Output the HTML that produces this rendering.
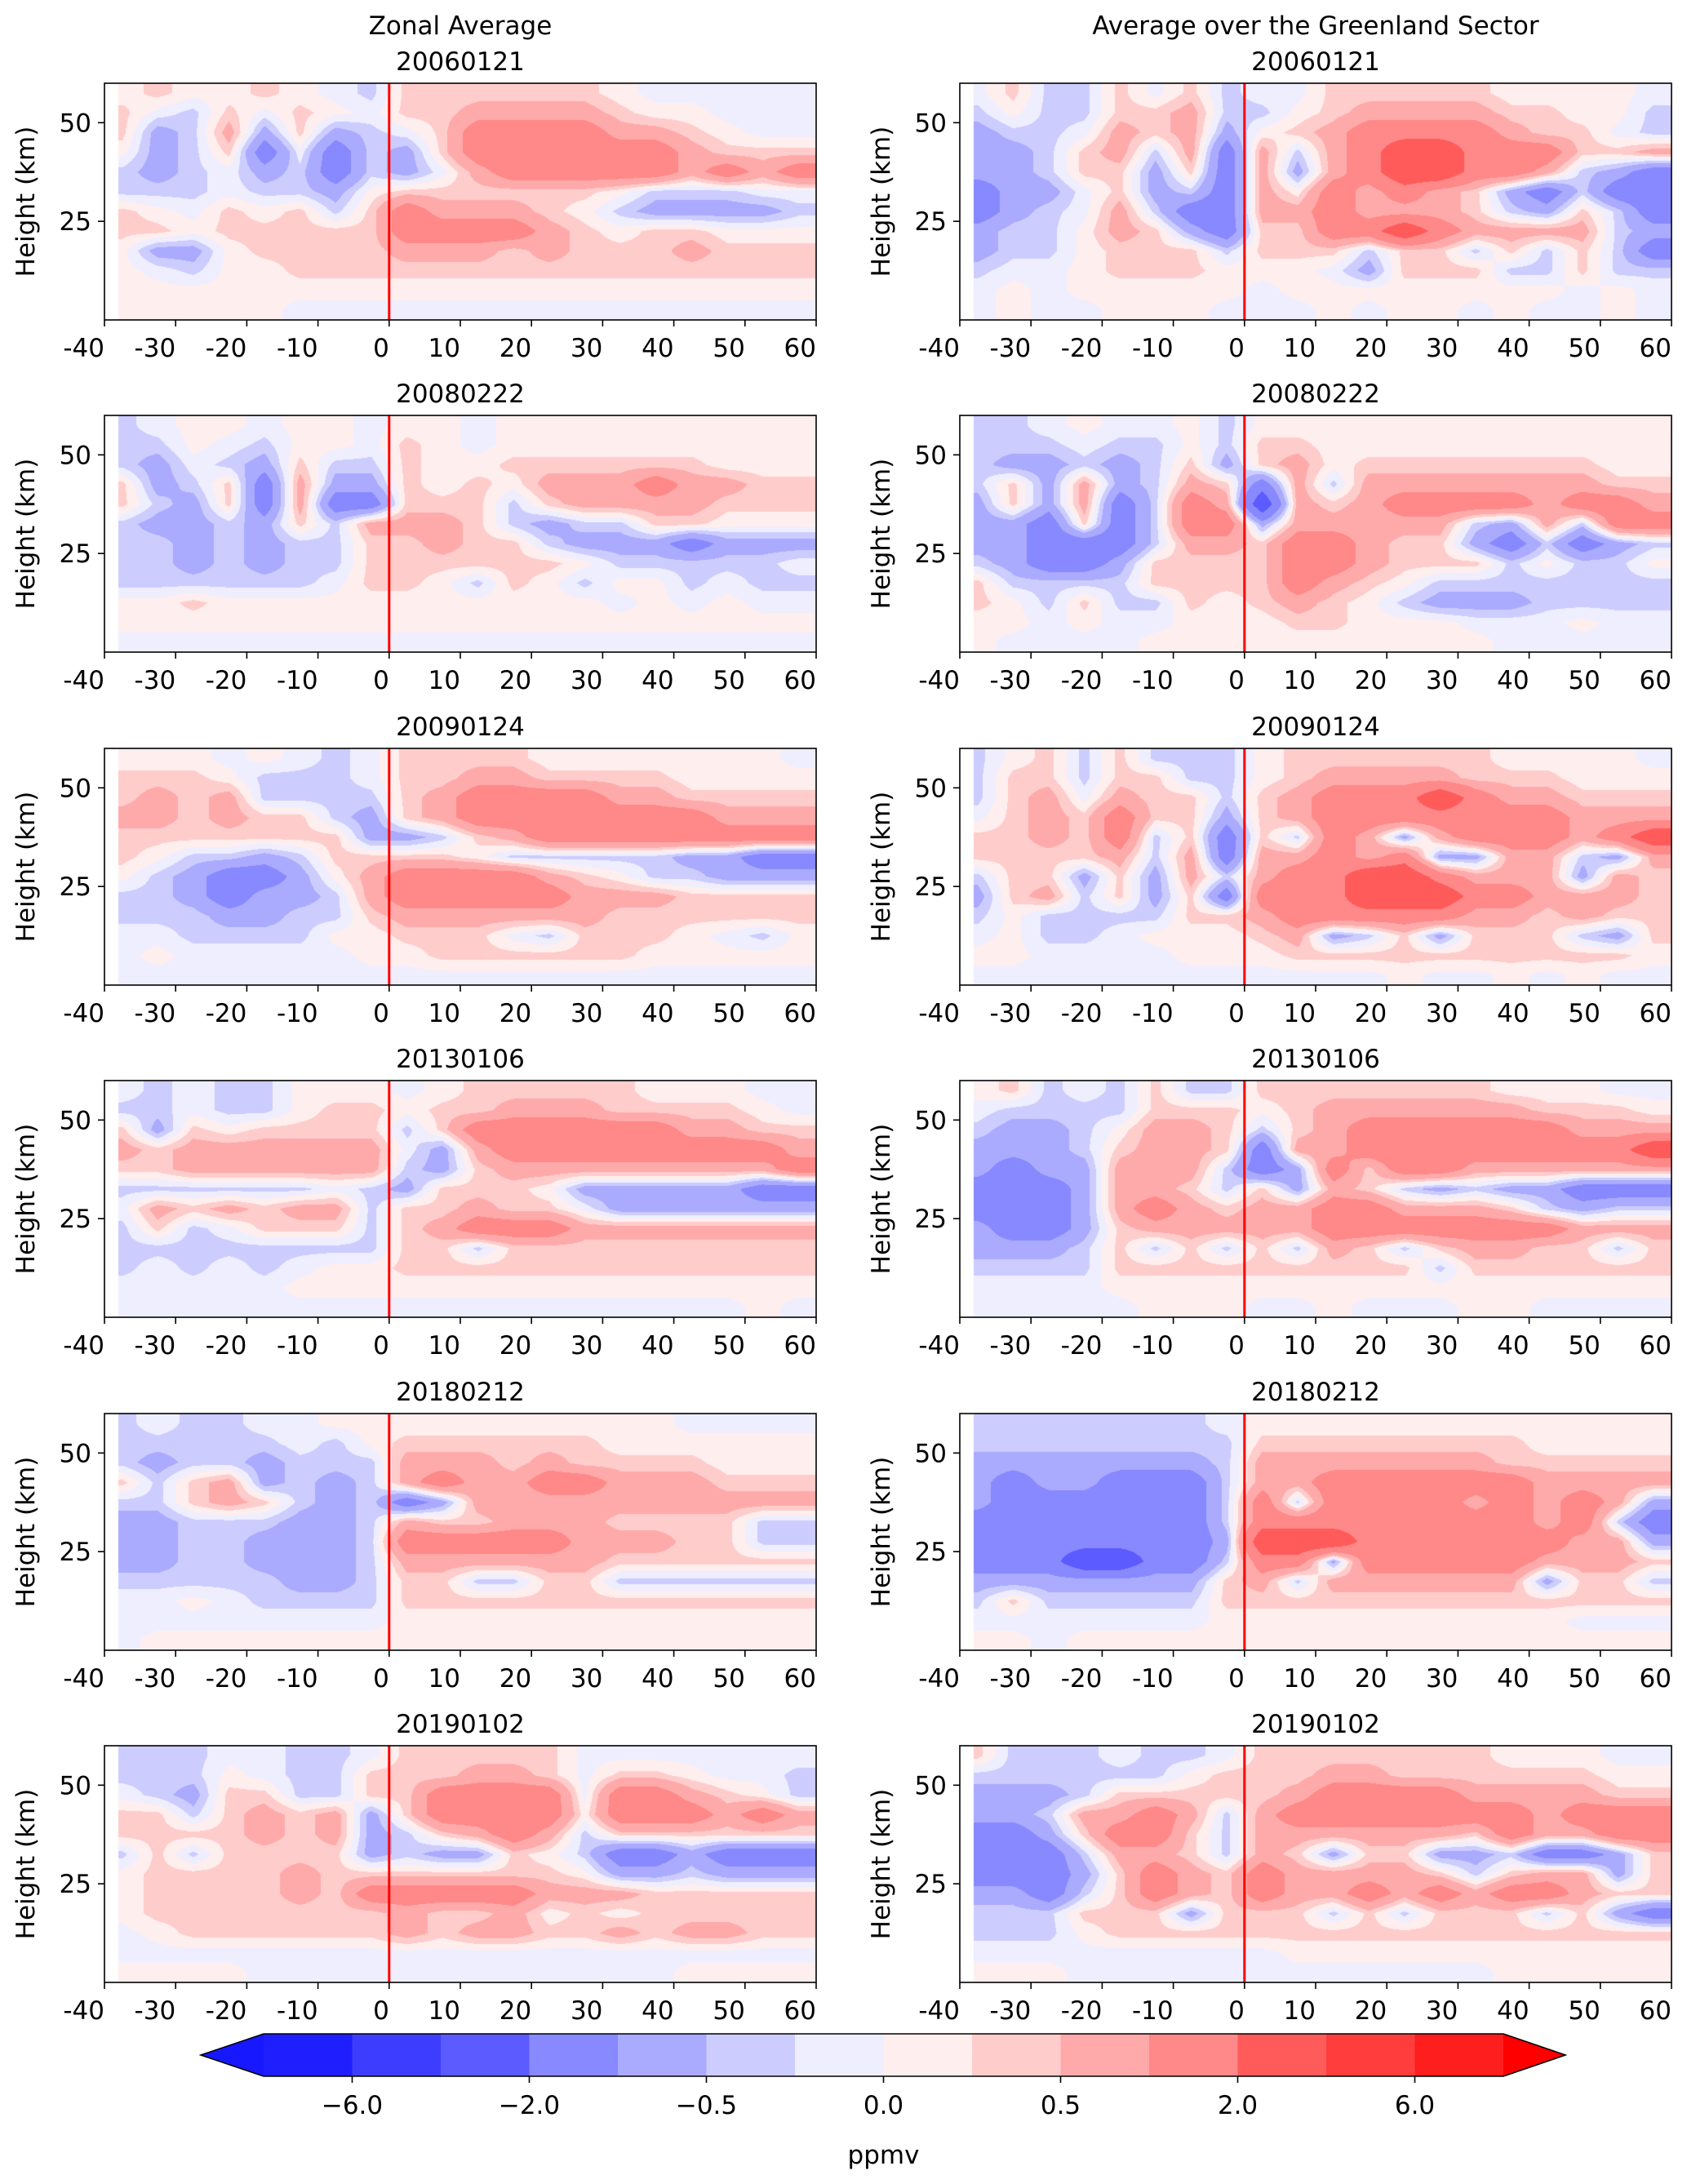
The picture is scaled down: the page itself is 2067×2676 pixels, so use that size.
<!DOCTYPE html>
<html><head><meta charset="utf-8">
<style>
html,body{margin:0;padding:0;background:#fff;}
#wrap{position:relative;width:2067px;height:2676px;overflow:hidden;font-family:"DejaVu Sans","Liberation Sans",sans-serif;}
canvas{position:absolute;}
svg{position:absolute;left:0;top:0;}
</style></head>
<body>
<div id="wrap">
<svg id="ov" width="2067" height="2676"></svg>
</div>
<script>
// ---- data ----
const xCenters = [-37.5,-32.5,-27.5,-22.5,-17.5,-12.5,-7.5,-2.5,2.5,7.5,12.5,17.5,22.5,27.5,32.5,37.5,42.5,47.5,52.5,57.5];
const heightCenters = [57.5,52.5,47.5,42.5,37.5,32.5,27.5,22.5,17.5,12.5,7.5,2.5];
const dates = ["20060121","20080222","20090124","20130106","20180212","20190102"];
const xTickLabels = [-40,-30,-20,-10,0,10,20,30,40,50,60];
const yTickLabels = [25,50];
const levels = [-8,-6,-4,-2,-1,-0.5,-0.25,0,0.25,0.5,1,2,4,6,8];
const cbarTickLabels = ["\u22126.0","\u22122.0","\u22120.5","0.0","0.5","2.0","6.0"];

const zonal2006 = [
[.1,.35,.1,.1,.35,.1,-.1,-.35,.35,.35,.35,.35,.35,.35,.1,-.1,-.1,-.1,-.1,-.1],
[.35,-.1,-.35,.35,-.1,.35,.1,-.1,.35,.35,.7,.7,.7,.7,.35,.1,.1,-.1,-.1,-.1],
[.35,-.7,-.35,.7,-.7,.35,-.7,-.35,-.1,.35,1.5,1.5,1.5,1.5,.7,.7,.35,.1,-.1,-.1],
[.1,-.7,-.35,.35,-1.5,-.1,-1.5,-.35,-.7,.35,1.5,1.5,1.5,1.5,1.5,1.5,.7,.35,.35,.35],
[-.35,-.7,-.35,-.1,-.7,-.35,-1.5,-.35,-.7,-.1,.7,1.5,1.5,1.5,1.5,1.5,.7,1.5,.7,1.5],
[-.35,-.35,-.35,-.1,-.35,-.35,-.7,.1,.35,.35,.35,.35,.35,.35,.1,-.35,-.35,-.35,-.1,-.1],
[.35,.1,-.1,.35,.1,.35,-.35,.35,1.5,.7,.7,.7,.35,.1,-.35,-.7,-.7,-.7,-.7,-.35],
[.35,.35,.1,.35,.35,.35,.35,.35,1.5,1.5,1.5,1.5,.7,.35,.1,.35,.35,.1,.1,.1],
[.1,-.7,-.7,.1,.35,.35,.35,.35,.7,.7,.7,.35,.7,.35,.35,.35,.7,.35,.35,.35],
[.1,-.1,-.35,.1,.1,.35,.35,.35,.35,.35,.35,.35,.35,.35,.35,.35,.35,.35,.35,.35],
[.1,.1,.1,.1,.1,.1,.1,.1,.1,.1,.1,.1,.1,.1,.1,.1,.1,.1,.1,.1],
[.1,.1,.1,.1,.1,-.1,-.1,-.1,-.1,-.1,-.1,-.1,-.1,-.1,-.1,-.1,-.1,-.1,-.1,-.1]];
const green2006 = [
[-.1,.35,-.35,-.35,.35,-.1,.35,-.35,-.1,-.1,.35,.35,.35,.35,.35,.1,.1,.1,.1,-.1],
[-.35,.1,-.35,-.35,.35,.35,.7,-.35,-.35,.1,.35,.7,.7,.7,.7,.35,.35,.1,.1,-.35],
[-.7,-.35,-.35,-.1,.7,.35,.7,-.7,.1,.35,.7,1.5,1.5,1.5,1.5,.7,.35,.35,-.1,-.35],
[-.7,-.7,-.35,.35,.7,-.35,.7,-1.5,.7,-.35,.7,1.5,3,3,1.5,1.5,1.5,.35,.35,.7],
[-.7,-.7,-.35,.35,.35,-.7,.35,-1.5,.7,-.7,.7,1.5,3,3,1.5,1.5,.7,-.35,-.7,-1.5],
[-1.5,-.7,-.7,-.1,.35,-.7,-.35,-1.5,.7,.1,1.5,.7,1.5,.7,.35,-.7,-1.5,-.35,-1.5,-1.5],
[-1.5,-.7,-.35,-.1,.7,-.35,-1.5,-1.5,.7,.7,1.5,.7,.7,.7,.35,-.35,-.7,.35,-.35,-1.5],
[-.7,-.35,-.35,.1,.7,.35,-.7,-1.5,.35,.35,1.5,1.5,3,1.5,.7,.7,.7,.7,-.35,-.7],
[-.7,-.35,-.35,.1,.35,.35,.35,-.35,.35,.35,.35,-.35,.35,.35,-.35,.35,-.35,.35,-.35,-1.5],
[-.35,-.1,-.1,.1,.35,.35,.35,.1,.1,.1,-.1,-.7,.35,.35,.35,-.35,-.35,.35,-.35,-.35],
[-.1,.1,-.1,.1,.1,.1,.1,.1,-.1,.1,.1,.1,.1,.1,.1,.1,.1,-.1,.1,-.1],
[-.1,.1,-.1,-.1,.1,.1,.1,-.1,-.1,-.1,.1,-.1,.1,.1,-.1,.1,-.1,-.1,.1,-.1]];
const zonal2008 = [
[-.35,-.1,.1,.1,-.1,.1,.1,-.1,.1,.1,-.1,.1,.1,.1,.1,.1,.1,.1,.1,.1],
[-.35,-.35,.1,-.1,-.35,.1,.1,-.1,.35,.1,-.1,.1,.1,.1,.1,.1,.1,.1,.1,.1],
[-.35,-.7,-.1,-.35,-.7,.35,-.35,-.35,.35,.1,.1,.35,.35,.35,.35,.35,.35,.1,.1,.1],
[.35,-.7,-.35,.35,-1.5,.7,-.7,-.7,.35,.1,.35,.1,.7,.7,.7,1.5,.7,.7,.35,.35],
[.35,-.35,-.7,.35,-1.5,.7,-1.5,-1.5,.35,.35,.35,-.35,.35,.7,.7,.7,.7,.35,.35,.35],
[-.35,-.7,-.7,-.35,-.7,.35,-.35,.7,.7,.7,.35,-.35,-.7,-.35,-.35,.35,.35,.1,.1,.1],
[-.35,-.35,-.7,-.35,-.7,-.35,-.35,.35,.35,.7,.35,.35,-.35,-.7,-.7,-.7,-1.5,-.7,-.7,-.7],
[-.35,-.35,-.7,-.35,-.7,-.35,-.35,.35,.35,.35,.35,.35,.35,.1,-.35,-.35,-.35,-.35,-.35,-.1],
[-.35,-.35,-.35,-.35,-.35,-.35,-.1,.35,.35,.1,-.35,.35,.1,-.35,.1,.1,-.35,-.1,-.35,-.35],
[.1,.1,.35,.1,.1,.1,.1,.1,.1,.1,.1,.1,.1,.1,-.1,.1,-.1,.1,-.1,-.1],
[.1,.1,.1,.1,.1,.1,.1,.1,.1,.1,.1,.1,.1,.1,.1,.1,.1,.1,.1,.1],
[-.1,-.1,-.1,-.1,-.1,-.1,-.1,-.1,-.1,-.1,-.1,-.1,-.1,-.1,-.1,-.1,-.1,-.1,-.1,-.1]];
const green2008 = [
[-.35,-.35,-.1,.1,-.1,-.1,.1,-.35,.1,.1,.1,.1,.1,.1,.1,.1,.1,.1,.1,.1],
[-.35,-.35,-.35,-.1,-.35,-.35,.1,-.35,.35,.35,.1,.1,.1,.1,.1,.1,.1,.1,.1,.1],
[-.35,-.7,-.7,-.35,-.7,-.35,.35,-.7,.35,.7,.1,.35,.35,.35,.35,.35,.35,.35,.1,.1],
[-.35,.35,-.7,.7,-.7,-.35,.7,.35,-1.5,.7,-.35,.7,.7,.7,.7,.7,.7,.7,.35,.35],
[-.7,.35,-.7,.7,-1.5,-.35,1.5,.7,-3,.7,.35,.7,1.5,1.5,1.5,1.5,.7,1.5,1.5,.7],
[-.7,-.7,-1.5,.35,-1.5,-.35,1.5,1.5,-.7,.7,.7,.7,.7,.7,-.35,-.7,.7,-.35,1.5,1.5],
[-.7,-.7,-1.5,-1.5,-1.5,-.35,.7,.7,.35,1.5,1.5,.7,.35,.35,-.7,-1.5,-.35,-1.5,-.7,-.35],
[-.35,-.7,-1.5,-1.5,-.7,.35,.35,.35,.35,1.5,1.5,.7,.35,.35,.35,-.35,.1,-.35,-.35,.1],
[.35,-.35,-.35,-.35,-.35,.35,.35,.35,.35,1.5,.7,.35,.1,-.35,-.35,-.35,-.35,-.35,-.35,-.35],
[.35,.1,-.35,.35,-.35,-.35,.35,.1,.35,.7,.35,.1,-.35,-.7,-.7,-.7,-.35,-.35,-.35,-.35],
[.1,.1,-.1,.1,-.1,-.1,.1,.1,.1,.35,.35,.1,.1,.1,-.1,-.1,-.1,.1,-.1,-.1],
[.1,-.1,-.1,-.1,-.1,.1,.1,.1,.1,.1,.1,.1,.1,.1,.1,-.1,-.1,-.1,-.1,-.1]];
const zonal2009 = [
[.1,.1,.1,-.1,.1,-.1,-.35,-.1,.35,.35,.35,.35,.1,.1,.1,.1,.1,.1,.1,-.1],
[.35,.35,.35,.1,-.35,-.35,-.35,-.1,.35,.35,.7,.7,.35,.35,.35,.35,.1,.1,.1,.1],
[.35,.7,.35,.7,-.35,-.35,-.35,-.35,.35,.7,1.5,1.5,1.5,1.5,.7,.7,.35,.35,.35,.35],
[.7,.7,.35,.7,.35,.35,-.35,-.7,.35,.7,1.5,1.5,1.5,1.5,1.5,1.5,1.5,.7,.7,.7],
[.35,.35,.35,.35,.35,.35,.35,-.7,-.7,-.35,.35,.7,1.5,1.5,1.5,1.5,1.5,1.5,1.5,1.5],
[.35,.1,-.35,-.35,-.7,-.35,.35,.35,.35,.35,.1,-.35,-.35,-.35,-.35,-.35,-.7,-.7,-1.5,-1.5],
[.1,-.35,-.7,-1.5,-1.5,-.7,.1,.7,1.5,1.5,1.5,1.5,.7,.35,.1,-.35,-.35,-.7,-.7,-.7],
[-.35,-.35,-.7,-1.5,-.7,-.7,-.35,.7,1.5,1.5,1.5,1.5,1.5,.7,.7,.7,.35,.35,.35,.35],
[-.35,-.35,-.35,-.7,-.7,-.35,-.35,.35,.7,.7,.7,.7,.7,.7,.35,.35,.35,.35,.35,.35],
[-.1,-.1,-.35,-.35,-.35,-.35,.1,.1,.35,.35,.35,-.1,-.35,.35,.35,.35,.1,-.1,-.35,.1],
[-.1,.1,-.1,-.1,-.1,-.1,-.1,.1,.1,.35,.35,.35,.35,.35,.35,.1,.1,.1,.1,.1],
[-.1,-.1,-.1,-.1,-.1,-.1,-.1,-.1,-.1,-.1,-.1,-.1,-.1,-.1,-.1,-.1,-.1,-.1,-.1,-.1]];
const green2009 = [
[-.35,.1,.35,-.35,.35,-.35,-.35,-.35,.1,.35,.35,.35,.35,.35,.35,.1,.1,.1,.1,-.1],
[-.35,.35,.35,-.35,.35,.35,-.35,-.35,.1,.35,.7,.7,.7,.7,.35,.35,.35,.1,.1,.1],
[-.35,.35,.7,-.1,.7,.35,.35,-.35,.35,.7,1.5,1.5,1.5,3,1.5,.7,.7,.35,.35,.35],
[-.1,.35,.7,.35,1.5,.35,.35,-.7,.35,.7,1.5,1.5,1.5,1.5,1.5,1.5,1.5,.7,.7,.7],
[.35,.35,.7,.35,1.5,-.35,.35,-1.5,.35,-.35,1.5,.7,-.7,.7,1.5,1.5,1.5,.7,1.5,3],
[.35,.35,.35,.35,.7,-.35,.7,-1.5,.7,.7,1.5,.7,1.5,-.7,-.7,.7,.7,-.35,-.7,.7],
[-.35,.35,.35,-.7,.35,-.7,.7,-.35,.7,1.5,1.5,3,3,1.5,.7,.7,.7,-.7,.7,.35],
[-.7,.35,.7,-.35,.35,-.7,.35,-1.5,1.5,1.5,1.5,3,3,3,1.5,1.5,.7,.7,.7,.35],
[-.35,.1,-.35,-.35,-.35,-.35,.35,.35,.7,1.5,1.5,1.5,1.5,1.5,.7,.7,.35,.7,.35,.35],
[-.1,.1,-.35,-.35,-.1,.1,.1,.1,.35,.7,-.7,-.35,.35,-.7,.35,.35,.35,-.35,-.7,.35],
[.1,.1,-.1,-.1,-.1,-.1,.1,.1,.1,.35,.35,.35,.35,.35,.35,.35,.35,.35,.35,.1],
[-.1,-.1,-.1,-.1,-.1,-.1,-.1,-.1,-.1,-.1,-.1,-.1,.1,-.1,-.1,.1,-.1,.1,-.1,-.1]];
const zonal2013 = [
[-.1,-.35,-.1,-.35,-.35,.1,.1,.1,-.1,.1,.35,.35,.35,.35,.35,.1,.1,.1,-.1,-.1],
[-.35,-.35,-.1,-.35,-.35,.1,.35,.35,.1,.35,.35,.7,.7,.7,.35,.35,.35,.35,.1,-.1],
[.35,-.7,.35,.1,.35,.35,.35,.35,-.35,.35,1.5,1.5,1.5,1.5,1.5,1.5,.7,.7,.35,.35],
[.7,.35,.7,.7,.7,.7,.7,.7,-.1,-.7,.7,1.5,1.5,1.5,1.5,1.5,1.5,1.5,1.5,.7],
[.35,.35,.7,.7,.7,.7,.7,.7,-.35,-.7,.35,.7,.7,.7,.7,.7,.7,.7,.7,1.5],
[-.35,-.35,-.35,-.35,-.35,-.35,-.1,-.35,-.7,.35,.35,.35,.1,-.7,-.7,-.7,-.7,-.7,-1.5,-1.5],
[-.1,.7,.35,.7,.35,.7,.7,-.35,.35,.35,.7,.35,.35,-.1,-.7,-.7,-.7,-.7,-.7,-.7],
[-.35,.35,-.35,-.1,.35,.35,.35,-.35,.35,.7,1.5,1.5,1.5,.7,.7,.7,.7,.7,.7,.7],
[-.35,-.35,-.35,-.35,-.35,-.35,-.35,-.35,.35,.35,-.35,.35,.35,.35,.35,.35,.35,.35,.35,.35],
[-.35,-.1,-.35,-.1,-.35,-.1,.1,.1,.35,.35,.35,.35,.35,.35,.35,.35,.35,.35,.35,.35],
[-.1,-.1,-.1,-.1,-.1,.1,.1,.1,.1,.1,.1,.1,.1,.1,.1,.1,.1,.1,.1,.1],
[-.1,-.1,-.1,-.1,-.1,-.1,-.1,-.1,-.1,-.1,-.1,-.1,-.1,-.1,-.1,-.1,-.1,-.1,.1,-.1]];
const green2013 = [
[.1,.35,-.35,-.1,-.35,.35,-.35,-.35,.35,.35,.35,.35,.35,.35,.35,.1,.1,.1,-.1,-.1],
[-.1,-.35,-.35,-.35,-.35,.35,.35,.35,.1,.35,.7,.7,.7,.7,.7,.7,.35,.35,.35,.1],
[-.35,-.7,-.7,-.35,.1,.7,.7,.35,-.35,.35,.7,1.5,1.5,1.5,1.5,1.5,1.5,.7,.7,.7],
[-.7,-.7,-.7,-.35,.35,.7,.7,.35,-1.5,.7,.7,1.5,1.5,1.5,1.5,1.5,1.5,1.5,1.5,3],
[-.7,-1.5,-.7,-.7,.7,.7,.7,-.35,-1.5,-.7,1.5,.35,1.5,1.5,.7,.7,.7,.7,.7,.7],
[-1.5,-1.5,-1.5,-.7,.7,.7,.35,-.35,.35,-.7,.7,.35,-.35,-.7,-.35,-.7,-.7,-1.5,-1.5,-1.5],
[-1.5,-1.5,-1.5,-.7,.7,1.5,.7,.35,.7,.7,1.5,1.5,.7,.7,.7,.35,-.35,-.7,-.35,-.35],
[-.7,-1.5,-1.5,-.7,.35,.7,.7,.7,.7,.7,1.5,1.5,1.5,1.5,1.5,1.5,1.5,.7,.7,.7],
[-.7,-.7,-.7,-.35,.35,-.35,.35,-.35,.35,-.35,.7,.35,-.35,.35,.7,.7,.35,.35,-.35,.35],
[-.35,-.35,-.35,-.35,.35,.35,.35,.35,.35,.35,.35,.35,.35,-.35,.35,.35,.35,.35,.35,.35],
[-.1,-.1,-.1,-.1,.1,.1,.1,.1,.1,.1,.1,.1,.1,.1,.1,.1,.1,.1,.1,.1],
[-.1,-.1,-.1,-.1,-.1,.1,.1,.1,-.1,-.1,.1,-.1,-.1,-.1,.1,.1,-.1,-.1,-.1,-.1]];
const zonal2018 = [
[-.35,-.1,-.35,-.35,-.1,-.1,.1,.1,.1,.1,.1,.1,.1,.1,.1,.1,-.1,-.1,-.1,-.1],
[-.35,-.35,-.35,-.35,-.35,-.1,-.35,.1,.35,.35,.35,.35,.35,.35,.1,.1,.1,.1,.1,.1],
[-.35,-.7,-.35,-.35,-.7,-.35,-.35,-.35,.7,.7,.7,.35,.7,.35,.35,.35,.35,.1,.1,.1],
[.35,-.35,.35,.7,-.7,-.35,-.7,-.35,.7,1.5,.7,.7,1.5,1.5,.7,.7,.7,.35,.35,.35],
[-.35,-.35,.35,.7,.35,-.35,-.7,-.35,-1.5,-.7,.7,.7,.7,.7,.7,.7,.7,.7,.7,.7],
[-.7,-.7,-.35,-.35,-.35,-.7,-.7,-.35,.7,.35,.35,.7,.7,.7,.35,.35,.35,.35,-.35,-.35],
[-.7,-.7,-.35,-.35,-.7,-.7,-.7,-.35,1.5,1.5,1.5,1.5,1.5,.7,.7,.7,.35,.35,-.35,-.35],
[-.7,-.7,-.35,-.35,-.7,-.7,-.7,-.35,.7,.7,.7,.7,.7,.7,.35,.35,.35,.35,.35,.35],
[-.35,-.35,-.35,-.35,-.35,-.7,-.7,-.35,.35,.35,-.35,-.35,.35,.35,-.35,-.35,-.35,-.35,-.35,-.35],
[-.1,-.1,.1,-.1,-.35,-.35,-.35,-.35,.35,.35,.35,.35,.35,.35,.35,.35,.35,.35,.35,.35],
[-.1,-.1,-.1,-.1,-.1,-.1,-.1,-.1,.1,.1,.1,.1,.1,.1,.1,.1,.1,.1,.1,.1],
[-.1,.1,.1,.1,.1,.1,.1,.1,.1,.1,.1,.1,.1,.1,.1,.1,.1,.1,.1,.1]];
const green2018 = [
[-.35,-.35,-.35,-.35,-.35,-.35,-.35,-.1,.1,.1,.1,.1,.1,.1,.1,.1,.1,.1,.1,.1],
[-.35,-.35,-.35,-.35,-.35,-.35,-.35,-.35,.35,.35,.35,.35,.35,.35,.35,.35,.1,.1,.1,.1],
[-.7,-.7,-.7,-.7,-.7,-.7,-.7,-.35,.7,.7,.7,.7,.7,.7,.7,.35,.35,.35,.35,.35],
[-.7,-1.5,-.7,-.7,-1.5,-1.5,-1.5,-.35,.7,.7,1.5,1.5,1.5,1.5,1.5,1.5,.7,.7,.7,.7],
[-.7,-1.5,-1.5,-1.5,-1.5,-1.5,-1.5,-.35,1.5,-.35,1.5,1.5,1.5,1.5,.7,1.5,.7,1.5,.7,-.7],
[-1.5,-1.5,-1.5,-1.5,-1.5,-1.5,-1.5,-.35,1.5,1.5,1.5,1.5,1.5,1.5,1.5,1.5,.7,1.5,-.35,-1.5],
[-1.5,-1.5,-1.5,-1.5,-1.5,-1.5,-1.5,-.7,3,3,3,1.5,1.5,1.5,1.5,1.5,1.5,.7,.7,-.7],
[-1.5,-1.5,-1.5,-3,-3,-1.5,-1.5,-.35,1.5,1.5,-.7,1.5,1.5,1.5,1.5,1.5,.7,.7,.7,.35],
[-.7,-.7,-.7,-.7,-.7,-.7,-.7,.35,.7,-.35,.7,.7,.7,.7,.7,.7,-.7,.35,.35,-.35],
[-.35,.35,-.35,-.35,-.35,-.35,-.35,.35,.35,.35,.35,.35,.35,.35,.35,.35,.35,.35,.35,.35],
[-.1,-.1,-.1,-.1,-.1,-.1,-.1,.1,.1,.1,.1,.1,.1,.1,.1,.1,.1,-.1,-.1,-.1],
[.1,.1,-.1,.1,.1,.1,.1,.1,.1,.1,.1,.1,.1,.1,.1,.1,.1,.1,.1,.1]];
const zonal2019 = [
[-.35,-.35,-.35,-.1,-.1,-.35,-.35,-.1,.35,.35,.35,.35,.35,-.1,-.1,-.1,-.1,-.1,-.1,-.1],
[-.35,-.35,-.35,.1,-.1,-.35,-.35,.35,.35,.35,.7,.7,.35,-.1,.35,.35,.1,-.1,-.1,-.35],
[-.1,-.35,-.7,.35,.35,-.35,-.35,.35,.35,1.5,1.5,1.5,1.5,-.1,1.5,1.5,.7,.35,.1,-.35],
[.35,.35,-.35,.35,.7,.35,.7,-.7,.35,1.5,1.5,1.5,1.5,.1,1.5,1.5,1.5,.7,1.5,.7],
[.35,.35,.35,.35,.7,.35,.7,-.7,-.35,.35,.7,1.5,.7,-.35,.35,.35,.35,.35,.35,.35],
[-.35,.35,-.35,.35,.35,.35,.35,-.7,-.35,-.7,-.7,.35,.1,-.35,-1.5,-1.5,-.7,-1.5,-1.5,-1.5],
[.1,.35,.35,.35,.35,.7,.35,.35,.35,.35,.35,.35,.35,.1,-.7,-.7,-.35,-.7,-.7,-.7],
[.1,.35,.35,.35,.35,.7,.35,1.5,1.5,1.5,1.5,1.5,.7,.7,.7,.35,.35,.35,.35,.35],
[.1,.35,.35,.35,.35,.35,.35,.35,.7,.35,.35,.7,.1,.35,.1,.35,.35,.35,.35,.35],
[-.1,.1,.35,.35,.35,.35,.35,.35,.7,.35,.7,.7,.35,.35,.7,.35,.7,.7,.35,.35],
[-.1,-.1,-.1,-.1,-.1,-.1,-.1,-.1,-.1,-.1,-.1,-.1,-.1,-.1,-.1,-.1,-.1,-.1,-.1,-.1],
[.1,.1,.1,.1,-.1,-.1,-.1,-.1,-.1,-.1,-.1,-.1,-.1,-.1,-.1,-.1,.1,.1,.1,.1]];
const green2019 = [
[.35,-.35,-.35,-.35,-.1,-.35,-.35,-.1,.35,.35,.35,.35,.35,.35,.35,.1,.1,.1,-.1,-.1],
[-.35,-.35,-.35,-.35,-.35,-.35,.1,.35,.35,.35,.7,.7,.35,.35,.35,.35,.35,.35,.1,.1],
[-.7,-.7,-.7,-.35,.35,.35,.35,.35,.35,.7,1.5,1.5,1.5,1.5,.7,.7,.7,.7,.35,.35],
[-.7,-.7,-.35,.7,.7,1.5,.7,-.35,.7,1.5,1.5,1.5,1.5,1.5,1.5,1.5,.7,1.5,1.5,1.5],
[-1.5,-1.5,-.7,.35,1.5,1.5,.35,-.35,.7,.7,.7,.7,.7,.7,.35,1.5,.7,.7,1.5,1.5],
[-1.5,-1.5,-1.5,-.35,.7,.7,.35,-.35,.7,.35,-.7,.35,.35,-.7,-.7,-.35,-1.5,-1.5,-.7,.35],
[-1.5,-1.5,-1.5,-.7,.35,1.5,.7,.35,1.5,.7,.7,.7,.7,.35,-.35,.35,.7,.7,-.7,.35],
[-.7,-.7,-1.5,-.35,.35,1.5,.7,.35,1.5,.7,.7,1.5,.7,1.5,.7,1.5,1.5,.7,.35,.35],
[-.35,-.35,-.35,.35,.35,.35,-.7,.35,.35,.35,-.35,.35,-.35,.35,.35,.35,-.35,.35,-.7,-1.5],
[-.35,-.35,-.35,.1,.35,.35,.35,.35,.35,.35,.35,.35,.35,.35,.35,.35,.35,.35,.35,.35],
[-.1,-.1,-.1,-.1,-.1,-.1,-.1,-.1,-.1,.1,.1,.1,.1,.1,.1,.1,.1,.1,.1,.1],
[.1,.1,.1,-.1,-.1,-.1,-.1,-.1,-.1,-.1,-.1,-.1,-.1,-.1,-.1,.1,.1,.1,.1,.1]];

const zonalPanels = [zonal2006,zonal2008,zonal2009,zonal2013,zonal2018,zonal2019];
const greenPanels = [green2006,green2008,green2009,green2013,green2018,green2019];

// ---- styling / layout ----
const binColors = [[30,30,255],[61,61,255],[91,91,255],[136,136,255],[170,170,255],[204,204,255],[238,238,255],
                   [255,238,238],[255,204,204],[255,170,170],[255,136,136],[255,91,91],[255,61,61],[255,30,30]];
const lowExt = [24,24,255], highExt = [255,0,0];
const PW = 872, PH = 290;
const colLeft = [128, 1176];
const rowTop0 = 102, rowPitch = 407.4;
const xMin = -40, xMax = 60, yMin = 0, yMax = 60, dataStart = -38;
const NS = "http://www.w3.org/2000/svg";
const ov = document.getElementById('ov');
const wrap = document.getElementById('wrap');

function xScale(v){ return (v - xMin) / (xMax - xMin) * PW; }
function yScale(v){ return PH - (v - yMin) / (yMax - yMin) * PH; }
function colorFor(v){
  if (v < levels[0]) return lowExt;
  for (let i = 0; i < levels.length - 1; i++) if (v < levels[i+1]) return binColors[i];
  return highExt;
}
function sample(data, x, h){
  const nc = xCenters.length, nr = heightCenters.length;
  let fx = (x - xCenters[0]) / (xCenters[1] - xCenters[0]);
  fx = Math.max(0, Math.min(nc - 1, fx));
  let fr = (heightCenters[0] - h) / (heightCenters[0] - heightCenters[1]);
  fr = Math.max(0, Math.min(nr - 1, fr));
  const c0 = Math.floor(fx), c1 = Math.min(nc - 1, c0 + 1), tx = fx - c0;
  const r0 = Math.floor(fr), r1 = Math.min(nr - 1, r0 + 1), ty = fr - r0;
  const a = data[r0][c0]*(1-tx) + data[r0][c1]*tx;
  const b = data[r1][c0]*(1-tx) + data[r1][c1]*tx;
  return a*(1-ty) + b*ty;
}
function svgEl(tag, attrs, parent){
  const e = document.createElementNS(NS, tag);
  for (const k in attrs) e.setAttribute(k, attrs[k]);
  (parent || ov).appendChild(e);
  return e;
}
function text(str, x, y, size, anchor, parent){
  const t = svgEl('text', {x:x, y:y, 'font-size':size, 'text-anchor':anchor||'middle', fill:'#000',
    'font-family':'DejaVu Sans, Liberation Sans, sans-serif'}, parent);
  t.textContent = str;
  return t;
}

function drawPanel(data, left, top, kind, date){
  const cv = document.createElement('canvas');
  cv.width = PW; cv.height = PH;
  cv.style.left = left + 'px'; cv.style.top = top + 'px';
  
  
  wrap.insertBefore(cv, ov);
  const ctx = cv.getContext('2d');
  const img = ctx.createImageData(PW, PH);
  for (let py = 0; py < PH; py++){
    const h = yMax - (py + 0.5) / PH * (yMax - yMin);
    for (let px = 0; px < PW; px++){
      const x = xMin + (px + 0.5) / PW * (xMax - xMin);
      const o = (py * PW + px) * 4;
      let c = [255,255,255];
      if (x >= dataStart) c = colorFor(sample(data, x, h));
      img.data[o] = c[0]; img.data[o+1] = c[1]; img.data[o+2] = c[2]; img.data[o+3] = 255;
    }
  }
  ctx.putImageData(img, 0, 0);

  const g = svgEl('g', {transform:'translate(' + left + ',' + top + ')'});
  
  
  const ev = svgEl('line', {x1:xScale(0), x2:xScale(0), y1:0, y2:PH, stroke:'#ff0000', 'stroke-width':3}, g);
  
  
  const fr = svgEl('rect', {x:0, y:0, width:PW, height:PH, fill:'none', stroke:'#000', 'stroke-width':1.6}, g);
  
  
  xTickLabels.forEach(v => {
    const X = xScale(v);
    svgEl('line', {x1:X, x2:X, y1:PH, y2:PH + 8, stroke:'#000', 'stroke-width':1.6}, g);
    const t = text(String(v), X, PH + 45, 31, 'end', g);
    
    
  });
  yTickLabels.forEach(v => {
    const Y = yScale(v);
    svgEl('line', {x1:-8, x2:0, y1:Y, y2:Y, stroke:'#000', 'stroke-width':1.6}, g);
    const t = text(String(v), -16, Y + 11, 31, 'end', g);
    
    
  });
  const yl = text('Height (km)', 0, 0, 31, 'middle', g);
  yl.setAttribute('transform', 'translate(-86,' + (PH/2) + ') rotate(-90)');
  
  
  const tt = text(date, PW/2, -16, 31, 'middle', g);
  
  
}

for (let r = 0; r < 6; r++){
  const top = Math.round(rowTop0 + r * rowPitch);
  drawPanel(zonalPanels[r], colLeft[0], top, 'zonal', dates[r]);
  drawPanel(greenPanels[r], colLeft[1], top, 'greenland', dates[r]);
}
const ct1 = text('Zonal Average', colLeft[0] + PW/2, 42, 31, 'middle');


const ct2 = text('Average over the Greenland Sector', colLeft[1] + PW/2, 42, 31, 'middle');



// ---- colorbar ----
const cbL = 323, cbR = 1842, cbT = 2492, cbB = 2544, tipL = 246, tipR = 1918;
const cb = svgEl('g', {});


const nb = binColors.length, bw = (cbR - cbL) / nb;
binColors.forEach((c, i) => {
  const r = svgEl('rect', {x:cbL + i*bw, y:cbT, width:bw + 0.6, height:cbB - cbT, fill:'rgb(' + c.join(',') + ')'}, cb);
  
  
});
const lt = svgEl('polygon', {points: cbL + ',' + cbT + ' ' + tipL + ',' + ((cbT+cbB)/2) + ' ' + cbL + ',' + cbB, fill:'rgb(' + lowExt.join(',') + ')'}, cb);


const rt = svgEl('polygon', {points: cbR + ',' + cbT + ' ' + tipR + ',' + ((cbT+cbB)/2) + ' ' + cbR + ',' + cbB, fill:'rgb(' + highExt.join(',') + ')'}, cb);


svgEl('polygon', {points: cbL+','+cbT+' '+cbR+','+cbT+' '+tipR+','+((cbT+cbB)/2)+' '+cbR+','+cbB+' '+cbL+','+cbB+' '+tipL+','+((cbT+cbB)/2), fill:'none', stroke:'#000', 'stroke-width':1.6}, cb);
cbarTickLabels.forEach((s, i) => {
  const X = cbL + (1 + 2*i) * bw;
  svgEl('line', {x1:X, x2:X, y1:cbB, y2:cbB + 8, stroke:'#000', 'stroke-width':1.6}, cb);
  const t = text(s, X, cbB + 46, 31, 'middle', cb);
  
  
});
const unit = text('ppmv', (cbL + cbR)/2, 2651, 31, 'middle', cb);


</script>
</body></html>
